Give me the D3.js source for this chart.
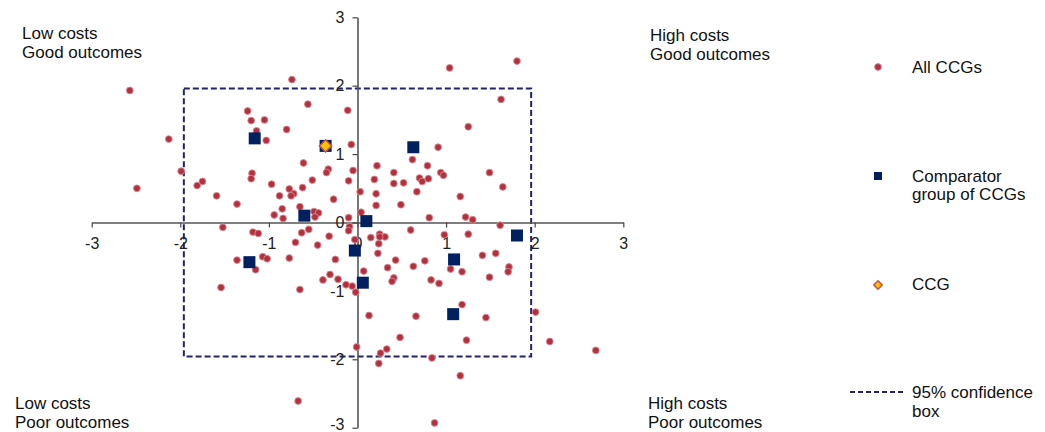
<!DOCTYPE html>
<html>
<head>
<meta charset="utf-8">
<script src="https://cdn.jsdelivr.net/npm/d3@7/dist/d3.min.js"></script>
<style>
body { margin: 0; background: #fff; }
text { font-family: Arial, "Liberation Sans", sans-serif; }
</style>
</head>
<body>
<svg width="1045" height="432"></svg>
<script>
// all CCGs (x = cost z-score, y = outcome z-score)
var allX = [-2.57,-0.74,-0.56,-1.24,-1.20,-1.05,-0.11,-1.14,-0.80,-2.13,-1.03,-0.07,-0.61,-0.33,-0.35,-1.19,-1.20,-1.99,-0.05,-2.49,
	-1.75,-1.81,-0.97,-0.51,-0.10,-0.62,-0.77,-0.72,-0.75,-0.88,-1.59,-0.27,-1.36,0.03,0.22,0.19,0.21,0.21,-0.65,-0.85,
	-0.94,-0.84,-0.49,-0.44,-0.48,0.04,1.04,1.80,1.62,1.25,0.91,0.62,0.79,0.41,0.94,0.97,1.49,0.41,0.52,0.70,
	0.80,0.73,1.64,0.67,1.16,0.49,-0.10,0.81,1.22,1.30,-1.52,-1.18,-1.12,-0.63,-0.55,-0.09,-0.10,-0.32,-0.03,0.15,
	0.24,-0.70,-0.45,0.23,-1.36,-1.07,-1.02,-0.77,-0.25,-1.15,0.07,-0.31,-0.39,-0.22,-0.13,-0.06,-0.02,-1.54,-0.65,0.13,
	-0.01,0.26,0.24,-0.67,1.61,0.60,0.98,1.25,0.25,0.31,0.25,1.41,1.56,0.43,0.76,0.34,0.63,1.05,1.18,1.71,
	1.70,1.49,0.41,0.39,0.83,0.92,1.18,2.01,0.66,1.45,0.48,1.23,2.17,2.69,0.33,0.84,1.16,0.87,-0.36];
var allY = [1.93,2.09,1.73,1.63,1.49,1.50,1.64,1.34,1.36,1.22,1.20,1.14,0.87,0.78,0.73,0.72,0.64,0.75,0.76,0.50,
	0.60,0.54,0.56,0.62,0.61,0.51,0.49,0.42,0.39,0.39,0.39,0.34,0.27,0.45,0.83,0.63,0.42,0.25,0.23,0.20,
	0.11,0.06,0.16,0.14,0.08,0.15,2.26,2.36,1.80,1.40,1.10,0.92,0.83,0.73,0.73,0.69,0.73,0.57,0.58,0.65,
	0.64,0.60,0.52,0.45,0.38,0.26,0.07,0.07,0.08,0.04,-0.07,-0.14,-0.16,-0.15,-0.10,-0.06,-0.12,-0.20,-0.25,-0.22,
	-0.31,-0.29,-0.33,-0.45,-0.55,-0.50,-0.53,-0.52,-0.54,-0.69,-0.71,-0.76,-0.84,-0.83,-0.91,-0.93,-1.02,-0.95,-0.98,-1.36,
	-1.82,-1.91,-2.06,-2.61,-0.04,-0.11,-0.18,-0.17,-0.17,-0.21,-0.21,-0.48,-0.45,-0.55,-0.56,-0.66,-0.64,-0.68,-0.72,-0.65,
	-0.72,-0.80,-0.81,-0.86,-0.84,-0.89,-1.20,-1.31,-1.37,-1.39,-1.68,-1.72,-1.74,-1.87,-1.85,-1.98,-2.24,-2.93,1.12];

// comparator group
var compX = [-1.16,-0.60,0.10,0.63,-0.03,-1.22,0.06,1.09,1.80,1.08,-0.36];
var compY = [1.23,0.10,0.02,1.10,-0.41,-0.58,-0.88,-0.54,-0.19,-1.34,1.12];

// this CCG
var ccgX = [-0.36];
var ccgY = [1.12];

var ciLimit = 1.96;
var tickVals = [-3,-2,-1,0,1,2,3];

var quadLabels = [["Low costs","Good outcomes"],["High costs","Good outcomes"],["Low costs","Poor outcomes"],["High costs","Poor outcomes"]];
var legendLabels = [["All CCGs"],["Comparator","group of CCGs"],["CCG"],["95% confidence","box"]];

var svg = d3.select('svg');
var width = +svg.attr('width');
var height = +svg.attr('height');

var xScale = d3.scaleLinear().domain([-3, 3]).range([91.7, 623.3]);
var yScale = d3.scaleLinear().domain([-3, 3]).range([427.7, 17.3]);

var navy = '#002060';
var red = '#b3303f';

// confidence box
svg.append('rect')
	.attr('x', xScale(-ciLimit))
	.attr('y', yScale(ciLimit))
	.attr('width', xScale(ciLimit) - xScale(-ciLimit))
	.attr('height', yScale(-ciLimit) - yScale(ciLimit))
	.attr('fill', 'none')
	.attr('stroke', '#22226e')
	.attr('stroke-width', 2)
	.attr('stroke-dasharray', '6,3');

// axes through the origin
var xAxis = svg.append('g')
	.attr('transform', 'translate(0,' + yScale(0) + ')')
	.call(d3.axisBottom(xScale).tickValues(tickVals).tickSize(5).tickSizeOuter(0).tickFormat(function(d) { return d; }));
xAxis.selectAll('text').attr('y', 26).attr('dy', 0);

var yAxis = svg.append('g')
	.attr('transform', 'translate(' + xScale(0) + ',0)')
	.call(d3.axisLeft(yScale).tickValues(tickVals).tickSize(5).tickSizeOuter(0).tickFormat(function(d) { return d; }));
yAxis.selectAll('text').attr('x', -13);
// bottom label sits at the page edge, lift it a touch
yAxis.selectAll('.tick text').filter(function(d) { return d === -3; }).attr('dy', '0.1em');

svg.selectAll('.domain').attr('stroke', '#555').attr('stroke-width', 1.6);
svg.selectAll('.tick line').attr('stroke', '#444').attr('stroke-width', 1.2);
svg.selectAll('.tick text').attr('fill', '#222').style('font-size', '16px').style('font-family', 'Arial, "Liberation Sans", sans-serif');

// all CCGs
svg.append('g').selectAll('circle')
	.data(allX)
	.enter().append('circle')
	.attr('cx', function(d) { return xScale(d); })
	.attr('cy', function(d, i) { return yScale(allY[i]); })
	.attr('r', 3.4)
	.attr('fill', red)
	.attr('stroke', '#d98a92')
	.attr('stroke-width', 0.9);

// comparator group
var sq = 12;
svg.append('g').selectAll('rect')
	.data(compX)
	.enter().append('rect')
	.attr('x', function(d) { return xScale(d) - sq / 2; })
	.attr('y', function(d, i) { return yScale(compY[i]) - sq / 2; })
	.attr('width', sq)
	.attr('height', sq)
	.attr('fill', navy);

// the CCG
var dm = d3.symbol().type(d3.symbolDiamond2).size(95);
svg.append('g').selectAll('path')
	.data(ccgX)
	.enter().append('path')
	.attr('d', dm)
	.attr('transform', function(d, i) { return 'translate(' + [xScale(d), yScale(ccgY[i])] + ')'; })
	.attr('fill', '#ffc000')
	.attr('stroke', '#c0504d')
	.attr('stroke-width', 1.5);

// quadrant labels
var quadPos = [[22, 39], [650, 41], [15, 408.5], [648, 408.5]];
quadLabels.forEach(function(lines, i) {
	var t = svg.append('text')
		.attr('x', quadPos[i][0])
		.attr('y', quadPos[i][1])
		.attr('fill', '#111')
		.style('font-size', '17px');
	lines.forEach(function(line, j) {
		t.append('tspan').attr('x', quadPos[i][0]).attr('dy', j === 0 ? 0 : 19).text(line);
	});
});

// legend
var legY = [73, 181.5, 290, 398];
legendLabels.forEach(function(lines, i) {
	var t = svg.append('text')
		.attr('x', 912)
		.attr('y', legY[i])
		.attr('fill', '#111')
		.style('font-size', '17px');
	lines.forEach(function(line, j) {
		t.append('tspan').attr('x', 912).attr('dy', j === 0 ? 0 : 18.5).text(line);
	});
});
svg.append('circle').attr('cx', 878).attr('cy', 67).attr('r', 3.4).attr('fill', red).attr('stroke', '#d98a92').attr('stroke-width', 0.9);
svg.append('rect').attr('x', 874).attr('y', 172).attr('width', 8).attr('height', 8).attr('fill', navy);
svg.append('path').attr('d', d3.symbol().type(d3.symbolDiamond2).size(45))
	.attr('transform', 'translate(878,285)')
	.attr('fill', '#ffc000').attr('stroke', '#c0504d').attr('stroke-width', 1.5);
svg.append('line').attr('x1', 850).attr('x2', 905).attr('y1', 392).attr('y2', 392)
	.attr('stroke', '#22226e').attr('stroke-width', 2).attr('stroke-dasharray', '5,3');
</script>
</body>
</html>
